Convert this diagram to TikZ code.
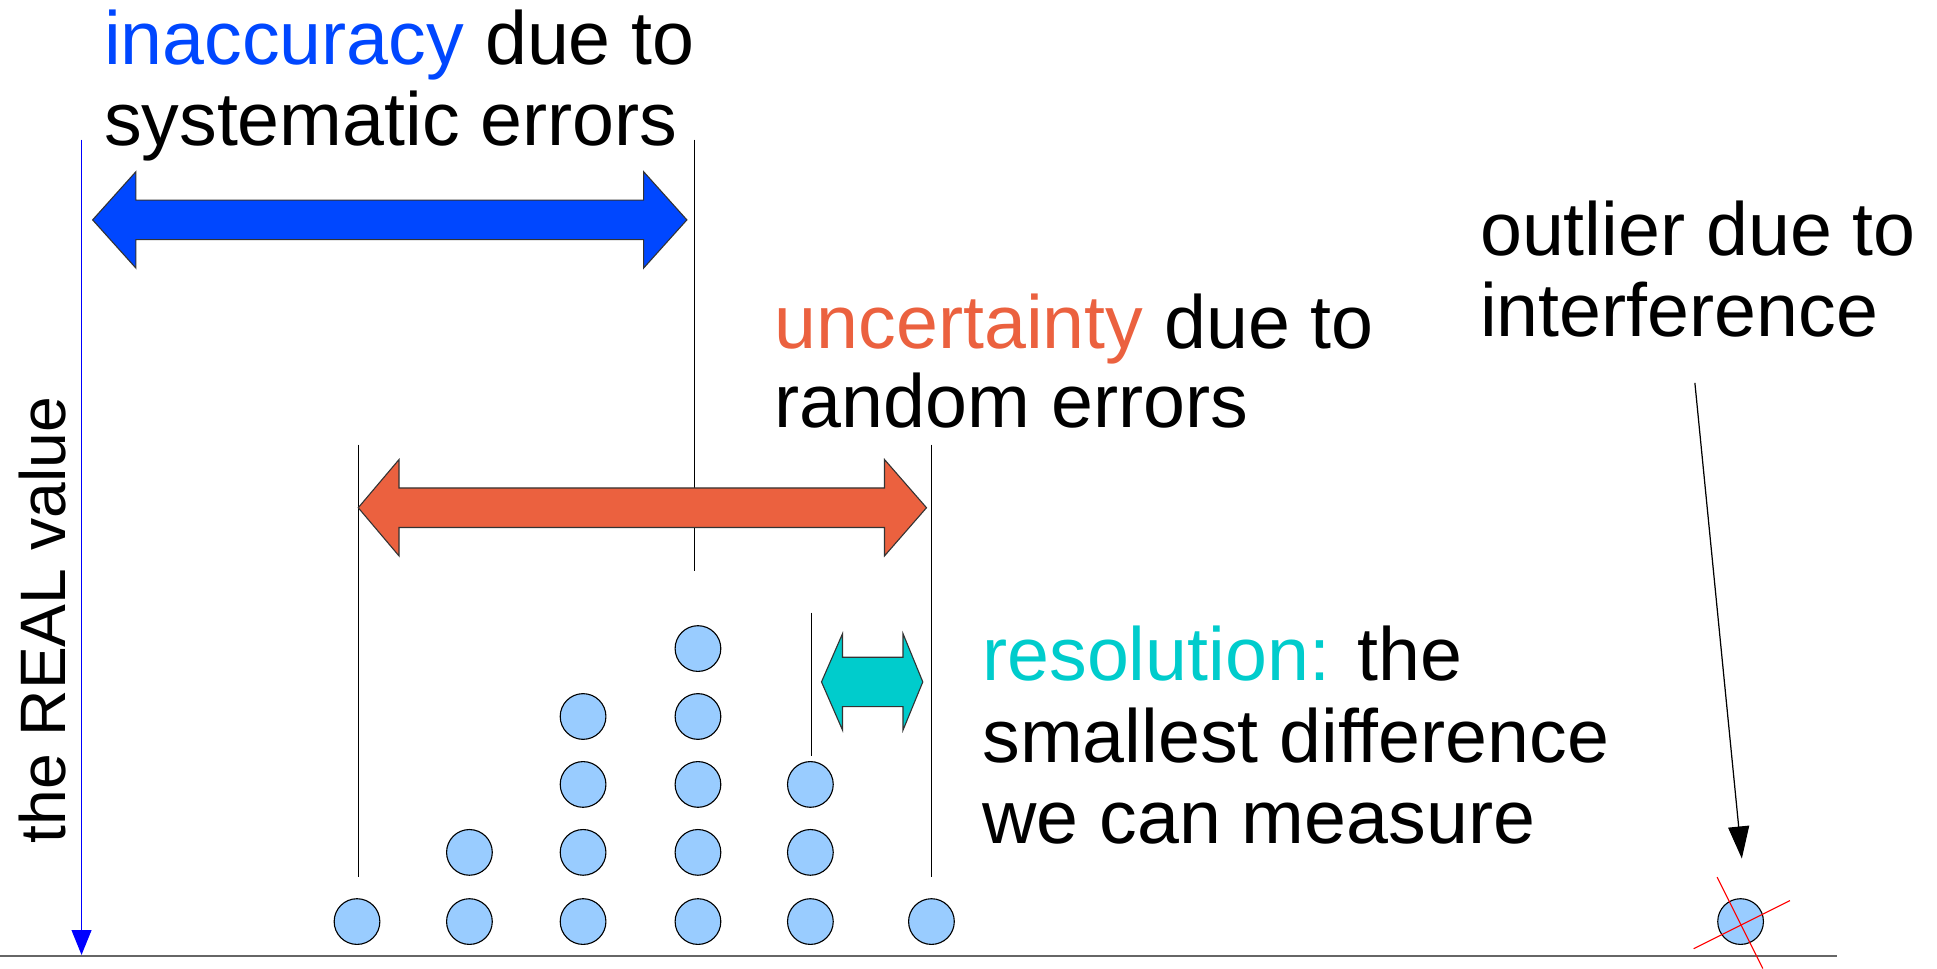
\documentclass[tikz,border=0pt]{standalone}
\usepackage{fontspec}
\setmainfont{Liberation Sans}
\usetikzlibrary{arrows.meta}
\definecolor{accblue}{HTML}{0047FF}
\definecolor{accorange}{HTML}{EB613F}
\definecolor{accteal}{HTML}{00CCCC}
\definecolor{dotblue}{HTML}{99CCFF}
\definecolor{realblue}{HTML}{0000FF}
\begin{document}
\begin{tikzpicture}[x=1pt,y=-1pt,
  dot/.style={circle,draw=black,fill=dotblue,minimum size=37pt,inner sep=0pt,line width=0.9pt},
  lbl/.style={anchor=base west,inner sep=0pt,font=\fontsize{61}{66}\selectfont},
  guide/.style={draw=black,line width=1.1pt},
  bigarrow/.style={draw=black!80,line width=0.9pt,line join=miter}]
\useasboundingbox (0,0) rectangle (1568,784);

% baseline
\coordinate (base0) at (0,774);
\coordinate (base1) at (1487,774);
\draw[draw=black!60,line width=2pt] (base0) -- (base1);

% real value line
\coordinate (realtop) at (66,113);
\coordinate (realbot) at (66,773);
\draw[realblue,line width=1pt,-{Triangle[length=20pt,width=16pt]}] (realtop) -- (realbot);
\node[rotate=90,anchor=base,inner sep=0pt,font=\fontsize{52}{60}\selectfont] (realtxt) at (53,502) {the REAL value};

% guide lines
\coordinate (g1a) at (562,113); \coordinate (g1b) at (562,462);
\coordinate (g2a) at (290,360); \coordinate (g2b) at (290,710);
\coordinate (g3a) at (754,360); \coordinate (g3b) at (754,710);
\coordinate (g4a) at (657,496); \coordinate (g4b) at (657,612);
\draw[guide] (g1a) -- (g1b);
\draw[guide] (g2a) -- (g2b);
\draw[guide] (g3a) -- (g3b);
\draw[guide] (g4a) -- (g4b);

% blue double arrow
\filldraw[bigarrow,fill=accblue] (75,178) -- (110,139) -- (110,162) -- (521,162) -- (521,139) -- (556,178)
  -- (521,217) -- (521,194) -- (110,194) -- (110,217) -- cycle;
% orange double arrow
\filldraw[bigarrow,fill=accorange] (290,411) -- (323,372) -- (323,395) -- (716,395) -- (716,372) -- (750,411)
  -- (716,450) -- (716,427) -- (323,427) -- (323,450) -- cycle;
% teal double arrow
\filldraw[bigarrow,fill=accteal] (665,552) -- (682,513) -- (682,532) -- (731,532) -- (731,513) -- (747,552)
  -- (731,591) -- (731,572) -- (682,572) -- (682,591) -- cycle;

% dots
\node[dot] (c1r1) at (289,746) {};
\node[dot] (c2r1) at (380,746) {};
\node[dot] (c2r2) at (380,690) {};
\node[dot] (c3r1) at (472,746) {};
\node[dot] (c3r2) at (472,690) {};
\node[dot] (c3r3) at (472,635) {};
\node[dot] (c3r4) at (472,580) {};
\node[dot] (c4r1) at (565,746) {};
\node[dot] (c4r2) at (565,690) {};
\node[dot] (c4r3) at (565,635) {};
\node[dot] (c4r4) at (565,580) {};
\node[dot] (c4r5) at (565,525) {};
\node[dot] (c5r1) at (656,746) {};
\node[dot] (c5r2) at (656,690) {};
\node[dot] (c5r3) at (656,635) {};
\node[dot] (c6r1) at (754,746) {};

% outlier
\node[dot] (outlier) at (1409,746) {};
\coordinate (xa1) at (1390,710); \coordinate (xa2) at (1427,784);
\coordinate (xb1) at (1371,768); \coordinate (xb2) at (1449,729);
\draw[red,line width=0.9pt] (xa1) -- (xa2);
\draw[red,line width=0.9pt] (xb1) -- (xb2);

% labels
\node[lbl] (inacc1) at (84,52) {\textcolor{accblue}{inaccuracy} due to};
\node[lbl] (inacc2) at (84,118) {systematic errors};
\node[lbl] (unc1) at (627,282) {\textcolor{accorange}{uncertainty} due to};
\node[lbl] (unc2) at (627,346) {random errors};
\node[lbl] (res1) at (795,551) {\textcolor{accteal}{resolution:} the};
\node[lbl] (res2) at (795,617) {smallest difference};
\node[lbl] (res3) at (795,683) {we can measure};
\node[lbl] (out1) at (1198,207) {outlier due to};
\node[lbl] (out2) at (1198,272) {interference};

% outlier pointer
\coordinate (ptrstart) at (1372,310);
\coordinate (ptrend) at (1410,695);
\draw[black,line width=1pt,-{Triangle[length=26pt,width=17pt]}] (ptrstart) -- (ptrend);
\end{tikzpicture}
\end{document}
